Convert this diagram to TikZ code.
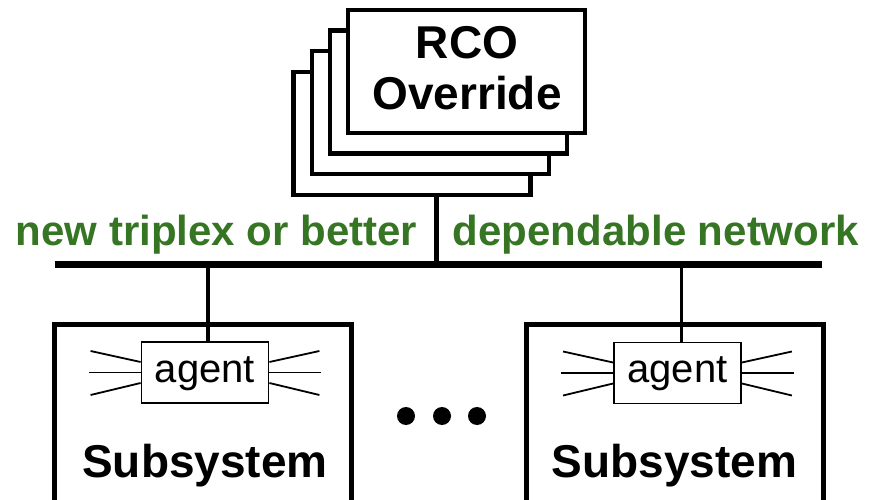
\documentclass[tikz,border=0pt]{standalone}
\usepackage{fontspec}
\setmainfont{Liberation Sans}
\usetikzlibrary{calc}
\definecolor{netgreen}{RGB}{54,117,35}
\tikzset{
  stackbox/.style={draw, fill=white, line width=4.5pt, minimum width=237pt, minimum height=123pt, inner sep=0pt},
  subbox/.style={draw, line width=5pt, minimum width=297pt, minimum height=300pt, inner sep=0pt},
  agentbox/.style={draw, fill=white, line width=1.8pt, minimum width=127pt, minimum height=61pt, inner sep=0pt},
  title/.style={font=\bfseries\fontsize{46}{51}\selectfont, inner sep=0pt},
  netlabel/.style={font=\bfseries\fontsize{42}{48}\selectfont, text=netgreen, inner sep=0pt, anchor=base},
  agenttext/.style={font=\fontsize{40}{46}\selectfont, inner sep=0pt, anchor=base},
  bus/.style={line width=7pt},
  tap/.style={line width=3.5pt},
  ray/.style={line width=1.8pt},
  dot/.style={circle, fill=black, minimum size=18pt, inner sep=0pt}
}
\begin{document}
\begin{tikzpicture}[x=1pt,y=-1pt]
\useasboundingbox (0,0) rectangle (879,500);
\clip (0,0) rectangle (879,500);

% stacked RCO boxes
\node[stackbox] (box4) at (412,133.5) {};
\node[stackbox] (box3) at (430.5,112.5) {};
\node[stackbox] (box2) at (448.5,92) {};
\node[stackbox] (box1) at (466.5,71.5) {};
\node[title, align=center] (rco) at (467,67.7) {RCO\\Override};

% bus
\coordinate (busL) at (55,264);
\coordinate (busR) at (822,264);
\draw[bus] (busL) -- (busR);
\coordinate (stackTap) at (436,264);
\draw[line width=5pt] (stackTap) -- (stackTap |- box4.south);

% network labels
\node[netlabel] (lab1) at (216.5,245) {new triplex or better};
\node[netlabel] (lab2) at (656,245) {dependable network};

% subsystems
\node[subbox] (subL) at (202.75,474.5) {};
\node[subbox] (subR) at (674.5,474.5) {};
\node[title, anchor=base] (subLtext) at (205,477) {Subsystem};
\node[title, anchor=base] (subRtext) at (674.5,477) {Subsystem};

% agents
\node[agentbox] (agentL) at (205,372.5) {};
\node[agentbox] (agentR) at (677.5,373) {};
\node[agenttext] (agentLtext) at (205,382) {agent};
\node[agenttext] (agentRtext) at (677.5,382.5) {agent};

\coordinate (tapL) at (208,264);
\coordinate (tapR) at (681.5,264);
\draw[tap] (tapL) -- (tapL |- agentL.north);
\draw[tap] (tapR) -- (tapR |- agentR.north);

% rays
\foreach \a in {agentL,agentR}{
  \draw[ray] ($(\a.west)+(0,-10.5)$) -- ++(-50,-11);
  \draw[ray] (\a.west) -- ++(-52,0);
  \draw[ray] ($(\a.west)+(0,10.5)$) -- ++(-50,12);
  \draw[ray] ($(\a.east)+(0,-10.5)$) -- ++(50,-11);
  \draw[ray] (\a.east) -- ++(52,0);
  \draw[ray] ($(\a.east)+(0,10.5)$) -- ++(50,12);
}

% ellipsis dots
\node[dot] (d1) at (406,416) {};
\node[dot] (d2) at (442,416) {};
\node[dot] (d3) at (477,416) {};
\end{tikzpicture}
\end{document}
